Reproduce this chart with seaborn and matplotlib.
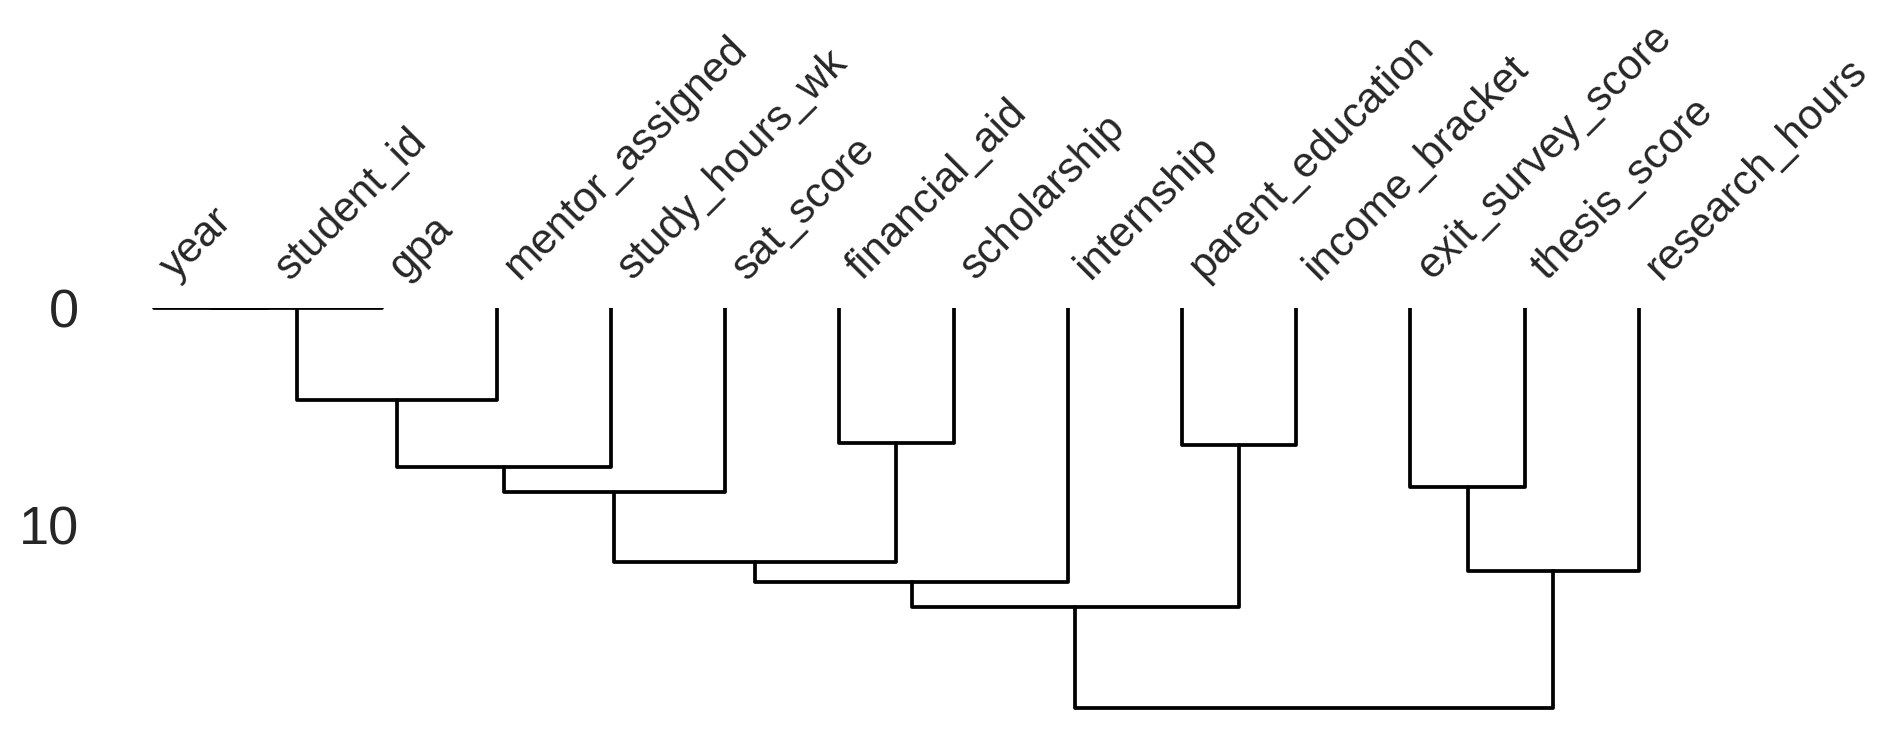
import numpy as np
import pandas as pd
import matplotlib
matplotlib.use("Agg")
import matplotlib.pyplot as plt
import seaborn as sns

# Leaf labels in display order
columns = ["year", "student_id", "gpa", "mentor_assigned", "study_hours_wk",
           "sat_score", "financial_aid", "scholarship", "internship",
           "parent_education", "income_bracket", "exit_survey_score",
           "thesis_score", "research_hours"]

# Linkage (scipy style): node ids 0..13 are leaves, new clusters get 14, 15, ...
merge_left = [0, 14, 15, 16, 17, 6, 18, 20, 9, 21, 11, 24, 23]
merge_right = [1, 2, 3, 4, 5, 7, 19, 8, 10, 22, 12, 13, 25]
merge_height = [0.0, 0.0, 4.25, 7.31, 8.46, 6.20, 11.69, 12.62, 6.32, 13.77,
                8.23, 12.11, 18.46]

yticks = [0, 10]

sns.set_theme(style="white")
plt.rcParams["font.family"] = ["Liberation Sans", "DejaVu Sans"]
plt.rcParams["text.color"] = "#262626"

# Build link coordinates like scipy's dendrogram
n = len(columns)
pos = {i: 10 * i + 5 for i in range(n)}
hgt = {i: 0.0 for i in range(n)}
rows = []
for k, (a, b, h) in enumerate(zip(merge_left, merge_right, merge_height)):
    node = n + k
    xa, xb = pos[a], pos[b]
    xs = [xa, xa, xb, xb]
    ys = [hgt[a], h, h, hgt[b]]
    for j, (xx, yy) in enumerate(zip(xs, ys)):
        rows.append({"link": k, "order": j, "x": xx, "y": yy})
    pos[node] = (xa + xb) / 2.0
    hgt[node] = h
links = pd.DataFrame(rows)

fig = plt.figure(figsize=(18.96, 7.48), dpi=100)
ax = fig.add_axes([0.0511, 0.0263, 0.8434, 0.5615])

sns.lineplot(data=links, x="x", y="y", units="link", estimator=None,
             sort=False, color="black", linewidth=2.7, legend=False, ax=ax)

ax.set_xlim(0, 10 * n)
ax.set_ylim(max(merge_height) * 1.05, 0)
ax.set_xlabel("")
ax.set_ylabel("")

ax.xaxis.tick_top()
ax.set_xticks([10 * i + 5 for i in range(n)])
ax.set_xticklabels(columns, rotation=45, ha="left", fontsize=30.5, color="#262626")
ax.set_yticks(yticks)
ax.set_yticklabels([str(t) for t in yticks], fontsize=39, color="#262626")
ax.tick_params(axis="x", length=0, pad=15)
ax.tick_params(axis="y", length=0, pad=13)
ax.xaxis.set_ticks_position("none")
ax.yaxis.set_ticks_position("none")
for sp in ax.spines.values():
    sp.set_visible(False)
ax.grid(False)
ax.patch.set_visible(False)

fig.savefig("out.png", dpi=100, facecolor="white")
